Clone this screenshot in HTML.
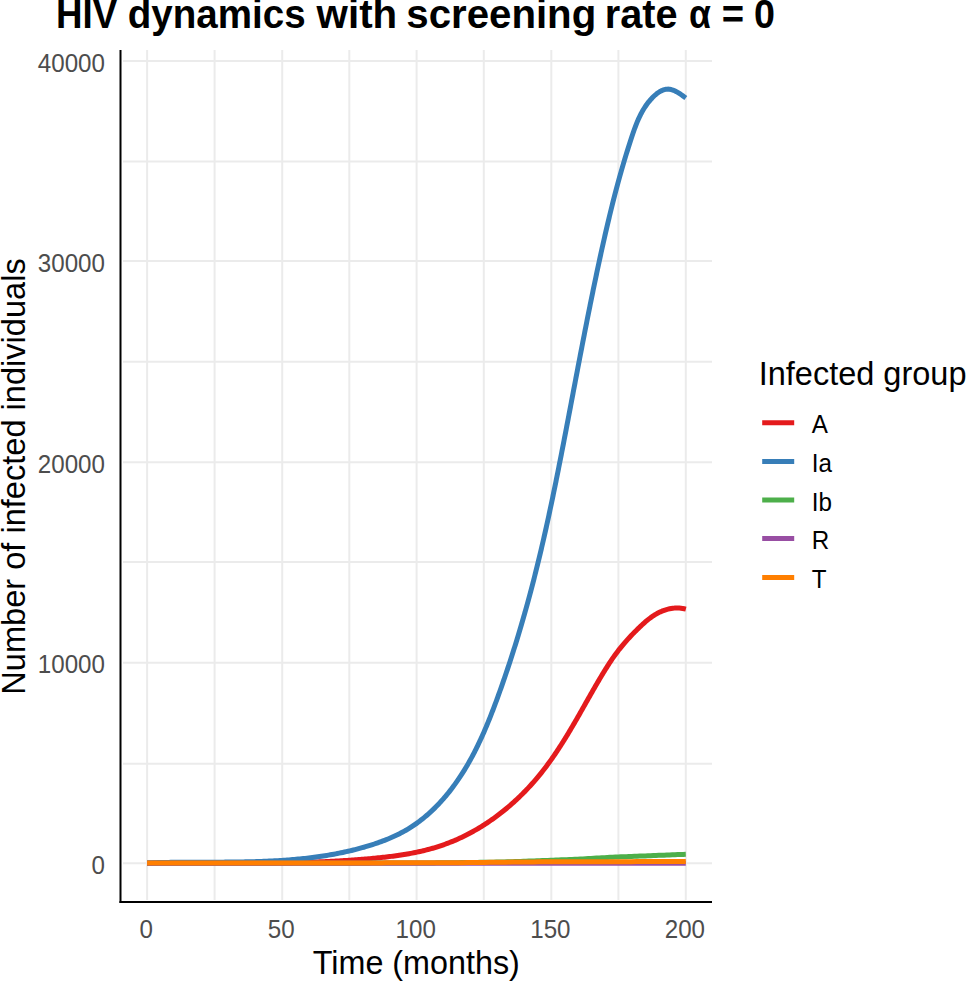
<!DOCTYPE html>
<html><head><meta charset="utf-8"><style>
html,body{margin:0;padding:0;background:#fff;width:967px;height:982px;overflow:hidden}
svg{display:block}
text{font-family:"Liberation Sans",sans-serif}
</style></head><body>
<svg width="967" height="982" viewBox="0 0 967 982">
<rect width="967" height="982" fill="#fff"/>
<g stroke="#EBEBEB" stroke-width="2" fill="none"><line x1="123" y1="60.9" x2="712" y2="60.9"/><line x1="123" y1="161.6" x2="712" y2="161.6"/><line x1="123" y1="261.0" x2="712" y2="261.0"/><line x1="123" y1="361.8" x2="712" y2="361.8"/><line x1="123" y1="462.3" x2="712" y2="462.3"/><line x1="123" y1="562.1" x2="712" y2="562.1"/><line x1="123" y1="662.8" x2="712" y2="662.8"/><line x1="123" y1="763.8" x2="712" y2="763.8"/><line x1="123" y1="863.3" x2="712" y2="863.3"/><line x1="147.1" y1="50" x2="147.1" y2="900"/><line x1="214.6" y1="50" x2="214.6" y2="900"/><line x1="282.2" y1="50" x2="282.2" y2="900"/><line x1="349.3" y1="50" x2="349.3" y2="900"/><line x1="416.6" y1="50" x2="416.6" y2="900"/><line x1="483.8" y1="50" x2="483.8" y2="900"/><line x1="551.3" y1="50" x2="551.3" y2="900"/><line x1="618.4" y1="50" x2="618.4" y2="900"/><line x1="685.8" y1="50" x2="685.8" y2="900"/></g>
<g fill="none" stroke-width="5.0" stroke-linejoin="round" stroke-linecap="butt"><path d="M147.10,863.20 L148.74,863.18 L150.38,863.15 L152.02,863.13 L153.66,863.11 L155.30,863.09 L156.94,863.07 L158.58,863.06 L160.22,863.04 L161.86,863.03 L163.49,863.02 L165.13,863.00 L166.77,862.99 L168.40,862.98 L170.04,862.97 L171.68,862.97 L173.31,862.96 L174.95,862.95 L176.58,862.95 L178.21,862.94 L179.85,862.94 L181.48,862.94 L183.11,862.93 L184.75,862.93 L186.38,862.93 L188.01,862.93 L189.64,862.93 L191.27,862.93 L192.90,862.93 L194.53,862.94 L196.16,862.94 L197.79,862.94 L199.42,862.94 L201.05,862.95 L202.68,862.95 L204.31,862.96 L205.94,862.96 L207.57,862.96 L209.19,862.97 L210.82,862.97 L212.45,862.98 L214.08,862.98 L215.70,862.99 L217.33,862.99 L218.96,863.00 L220.58,863.00 L222.21,863.01 L223.83,863.01 L225.46,863.02 L227.09,863.02 L228.71,863.03 L230.34,863.03 L231.96,863.03 L233.58,863.04 L235.21,863.04 L236.83,863.04 L238.46,863.04 L240.08,863.04 L241.71,863.05 L243.33,863.05 L244.95,863.05 L246.58,863.05 L248.20,863.04 L249.82,863.04 L251.44,863.04 L253.07,863.04 L254.69,863.03 L256.31,863.03 L257.94,863.02 L259.56,863.01 L261.18,863.01 L262.80,863.00 L264.42,862.99 L266.05,862.98 L267.67,862.97 L269.29,862.95 L270.91,862.94 L272.53,862.92 L274.16,862.91 L275.78,862.89 L277.40,862.87 L279.02,862.85 L280.64,862.83 L282.27,862.81 L283.89,862.78 L285.51,862.76 L287.13,862.73 L288.75,862.70 L290.37,862.67 L292.00,862.64 L293.62,862.61 L295.24,862.57 L296.86,862.54 L298.48,862.50 L300.11,862.46 L301.73,862.42 L303.35,862.37 L304.97,862.33 L306.60,862.28 L308.22,862.23 L309.84,862.18 L311.46,862.13 L313.09,862.08 L314.71,862.02 L316.33,861.96 L317.95,861.90 L319.58,861.84 L321.20,861.77 L322.82,861.70 L324.45,861.63 L326.07,861.56 L327.70,861.49 L329.32,861.41 L330.94,861.33 L332.57,861.25 L334.19,861.17 L335.82,861.08 L337.44,860.99 L339.07,860.90 L340.69,860.81 L342.32,860.71 L343.94,860.61 L345.57,860.51 L347.20,860.41 L348.82,860.30 L350.45,860.19 L352.08,860.08 L353.70,859.96 L355.33,859.84 L356.96,859.72 L358.59,859.60 L360.22,859.47 L361.84,859.34 L363.47,859.21 L365.10,859.07 L366.73,858.93 L368.36,858.79 L369.99,858.64 L371.62,858.49 L373.25,858.34 L374.88,858.19 L376.51,858.03 L378.14,857.86 L379.77,857.70 L381.40,857.52 L383.03,857.35 L384.66,857.17 L386.29,856.98 L387.92,856.79 L389.55,856.59 L391.17,856.39 L392.80,856.18 L394.42,855.96 L396.05,855.74 L397.67,855.51 L399.29,855.27 L400.91,855.03 L402.52,854.78 L404.14,854.52 L405.75,854.25 L407.36,853.98 L408.97,853.69 L410.57,853.40 L412.18,853.10 L413.78,852.79 L415.37,852.47 L416.97,852.14 L418.56,851.80 L420.15,851.45 L421.73,851.09 L423.32,850.71 L424.90,850.33 L426.47,849.94 L428.04,849.53 L429.61,849.12 L431.17,848.69 L432.73,848.25 L434.29,847.80 L435.84,847.33 L437.39,846.85 L438.93,846.36 L440.47,845.86 L442.00,845.34 L443.53,844.81 L445.05,844.26 L446.57,843.70 L448.08,843.13 L449.59,842.54 L451.09,841.95 L452.59,841.34 L454.08,840.71 L455.57,840.08 L457.05,839.43 L458.53,838.76 L460.00,838.09 L461.47,837.40 L462.93,836.70 L464.38,835.99 L465.83,835.27 L467.28,834.54 L468.71,833.79 L470.15,833.03 L471.57,832.26 L472.99,831.48 L474.41,830.69 L475.82,829.88 L477.22,829.06 L478.62,828.24 L480.01,827.40 L481.39,826.55 L482.77,825.69 L484.15,824.82 L485.51,823.94 L486.87,823.05 L488.22,822.15 L489.57,821.23 L490.91,820.31 L492.25,819.38 L493.57,818.43 L494.89,817.48 L496.21,816.52 L497.51,815.55 L498.82,814.56 L500.11,813.57 L501.40,812.57 L502.68,811.56 L503.95,810.54 L505.21,809.51 L506.47,808.47 L507.72,807.43 L508.97,806.37 L510.21,805.30 L511.44,804.23 L512.66,803.15 L513.87,802.06 L515.08,800.96 L516.28,799.85 L517.47,798.74 L518.66,797.61 L519.84,796.48 L521.00,795.34 L522.17,794.20 L523.32,793.04 L524.47,791.88 L525.61,790.71 L526.74,789.53 L527.86,788.35 L528.97,787.16 L530.08,785.96 L531.18,784.76 L532.27,783.54 L533.35,782.32 L534.42,781.10 L535.49,779.87 L536.54,778.63 L537.59,777.38 L538.63,776.13 L539.66,774.87 L540.68,773.61 L541.70,772.34 L542.71,771.06 L543.70,769.78 L544.69,768.50 L545.68,767.20 L546.65,765.91 L547.62,764.60 L548.58,763.29 L549.53,761.98 L550.48,760.66 L551.42,759.34 L552.35,758.01 L553.28,756.68 L554.20,755.34 L555.11,754.00 L556.02,752.66 L556.92,751.31 L557.82,749.95 L558.71,748.60 L559.60,747.24 L560.48,745.87 L561.36,744.50 L562.23,743.13 L563.10,741.75 L563.96,740.38 L564.82,738.99 L565.67,737.61 L566.52,736.22 L567.37,734.83 L568.21,733.44 L569.05,732.04 L569.89,730.65 L570.72,729.24 L571.55,727.84 L572.38,726.44 L573.20,725.03 L574.03,723.62 L574.85,722.21 L575.67,720.80 L576.48,719.39 L577.30,717.97 L578.11,716.56 L578.92,715.14 L579.73,713.72 L580.54,712.30 L581.35,710.88 L582.15,709.46 L582.96,708.04 L583.76,706.62 L584.57,705.20 L585.38,703.77 L586.18,702.35 L586.99,700.93 L587.79,699.50 L588.60,698.08 L589.41,696.66 L590.21,695.24 L591.02,693.82 L591.83,692.40 L592.64,690.98 L593.45,689.57 L594.27,688.15 L595.08,686.74 L595.90,685.33 L596.72,683.92 L597.54,682.52 L598.37,681.11 L599.19,679.72 L600.02,678.32 L600.85,676.93 L601.69,675.54 L602.53,674.15 L603.37,672.77 L604.21,671.39 L605.06,670.02 L605.91,668.65 L606.77,667.29 L607.63,665.93 L608.50,664.58 L609.38,663.23 L610.26,661.89 L611.15,660.55 L612.05,659.22 L612.96,657.90 L613.88,656.58 L614.82,655.27 L615.76,653.97 L616.72,652.67 L617.69,651.38 L618.67,650.10 L619.67,648.83 L620.69,647.56 L621.72,646.30 L622.76,645.05 L623.81,643.81 L624.88,642.57 L625.96,641.34 L627.05,640.12 L628.15,638.91 L629.25,637.71 L630.37,636.51 L631.49,635.32 L632.62,634.14 L633.75,632.97 L634.90,631.80 L636.05,630.64 L637.20,629.49 L638.37,628.35 L639.54,627.21 L640.72,626.09 L641.91,624.97 L643.12,623.86 L644.33,622.77 L645.56,621.70 L646.81,620.64 L648.07,619.61 L649.35,618.61 L650.65,617.63 L651.97,616.69 L653.31,615.78 L654.68,614.91 L656.07,614.08 L657.49,613.29 L658.94,612.54 L660.41,611.85 L661.90,611.20 L663.41,610.61 L664.94,610.07 L666.49,609.58 L668.05,609.16 L669.63,608.80 L671.22,608.51 L672.83,608.28 L674.44,608.12 L676.06,608.03 L677.69,608.02 L679.32,608.09 L680.96,608.23 L682.60,608.45 L684.24,608.76 L685.88,609.16" stroke="#E41A1C"/><path d="M147.10,862.91 L148.91,862.85 L150.71,862.79 L152.51,862.74 L154.32,862.69 L156.12,862.64 L157.93,862.60 L159.74,862.56 L161.55,862.52 L163.36,862.48 L165.17,862.45 L166.98,862.42 L168.79,862.39 L170.60,862.37 L172.42,862.35 L174.23,862.33 L176.05,862.31 L177.86,862.29 L179.68,862.28 L181.50,862.27 L183.31,862.25 L185.13,862.24 L186.95,862.24 L188.77,862.23 L190.59,862.22 L192.41,862.22 L194.23,862.21 L196.05,862.21 L197.87,862.20 L199.70,862.20 L201.52,862.20 L203.34,862.19 L205.17,862.19 L206.99,862.19 L208.81,862.18 L210.64,862.18 L212.46,862.18 L214.29,862.17 L216.11,862.17 L217.93,862.16 L219.76,862.15 L221.58,862.14 L223.41,862.13 L225.23,862.12 L227.06,862.11 L228.88,862.10 L230.71,862.08 L232.53,862.06 L234.36,862.04 L236.18,862.02 L238.01,862.00 L239.83,861.97 L241.66,861.94 L243.48,861.91 L245.30,861.87 L247.13,861.84 L248.95,861.80 L250.77,861.75 L252.60,861.71 L254.42,861.66 L256.24,861.60 L258.06,861.54 L259.88,861.48 L261.70,861.42 L263.52,861.35 L265.34,861.28 L267.16,861.20 L268.98,861.12 L270.80,861.03 L272.61,860.94 L274.43,860.84 L276.25,860.74 L278.06,860.64 L279.88,860.53 L281.69,860.41 L283.50,860.29 L285.31,860.16 L287.12,860.03 L288.94,859.89 L290.74,859.75 L292.55,859.60 L294.36,859.44 L296.17,859.28 L297.97,859.11 L299.78,858.94 L301.58,858.75 L303.38,858.56 L305.19,858.37 L306.99,858.17 L308.79,857.96 L310.58,857.74 L312.38,857.51 L314.18,857.28 L315.97,857.04 L317.76,856.79 L319.56,856.54 L321.35,856.28 L323.14,856.00 L324.92,855.72 L326.71,855.44 L328.50,855.14 L330.28,854.83 L332.06,854.52 L333.84,854.20 L335.62,853.86 L337.40,853.52 L339.18,853.17 L340.95,852.81 L342.72,852.44 L344.49,852.06 L346.26,851.67 L348.03,851.27 L349.80,850.86 L351.56,850.45 L353.33,850.02 L355.09,849.58 L356.85,849.13 L358.60,848.66 L360.36,848.19 L362.11,847.71 L363.87,847.22 L365.61,846.71 L367.36,846.19 L369.11,845.67 L370.85,845.12 L372.59,844.57 L374.32,844.00 L376.05,843.42 L377.77,842.83 L379.49,842.22 L381.21,841.60 L382.91,840.96 L384.62,840.31 L386.31,839.64 L388.00,838.95 L389.67,838.25 L391.34,837.53 L393.01,836.79 L394.66,836.03 L396.30,835.26 L397.93,834.47 L399.56,833.65 L401.17,832.82 L402.77,831.97 L404.36,831.10 L405.94,830.21 L407.50,829.29 L409.05,828.36 L410.59,827.40 L412.11,826.42 L413.62,825.42 L415.12,824.40 L416.60,823.35 L418.07,822.29 L419.53,821.21 L420.97,820.10 L422.40,818.98 L423.81,817.84 L425.21,816.68 L426.60,815.51 L427.97,814.31 L429.33,813.10 L430.68,811.88 L432.01,810.63 L433.33,809.38 L434.63,808.10 L435.92,806.82 L437.20,805.52 L438.46,804.20 L439.71,802.87 L440.94,801.53 L442.16,800.18 L443.37,798.82 L444.56,797.44 L445.74,796.05 L446.91,794.66 L448.06,793.25 L449.20,791.83 L450.32,790.41 L451.43,788.98 L452.52,787.53 L453.60,786.08 L454.67,784.62 L455.73,783.15 L456.77,781.68 L457.80,780.19 L458.82,778.70 L459.82,777.20 L460.82,775.70 L461.80,774.18 L462.77,772.66 L463.72,771.13 L464.67,769.60 L465.60,768.05 L466.53,766.50 L467.44,764.95 L468.34,763.38 L469.23,761.82 L470.11,760.24 L470.98,758.66 L471.84,757.07 L472.70,755.48 L473.54,753.88 L474.37,752.28 L475.19,750.67 L476.00,749.05 L476.81,747.43 L477.60,745.81 L478.39,744.18 L479.17,742.54 L479.94,740.90 L480.70,739.26 L481.46,737.61 L482.21,735.96 L482.95,734.30 L483.68,732.64 L484.41,730.98 L485.13,729.31 L485.84,727.64 L486.54,725.97 L487.24,724.29 L487.94,722.61 L488.63,720.92 L489.31,719.24 L489.98,717.55 L490.66,715.85 L491.32,714.16 L491.98,712.46 L492.64,710.76 L493.29,709.06 L493.94,707.36 L494.58,705.65 L495.22,703.95 L495.85,702.24 L496.49,700.53 L497.11,698.82 L497.74,697.11 L498.36,695.40 L498.98,693.68 L499.59,691.97 L500.20,690.25 L500.81,688.54 L501.42,686.82 L502.03,685.10 L502.63,683.38 L503.22,681.66 L503.82,679.94 L504.41,678.22 L505.00,676.50 L505.59,674.78 L506.18,673.06 L506.76,671.33 L507.34,669.61 L507.91,667.88 L508.49,666.16 L509.06,664.43 L509.63,662.70 L510.19,660.98 L510.75,659.25 L511.31,657.52 L511.87,655.79 L512.43,654.06 L512.98,652.32 L513.53,650.59 L514.08,648.86 L514.62,647.13 L515.16,645.39 L515.70,643.66 L516.24,641.92 L516.77,640.18 L517.30,638.45 L517.83,636.71 L518.36,634.97 L518.88,633.23 L519.40,631.49 L519.92,629.75 L520.44,628.01 L520.95,626.27 L521.47,624.53 L521.97,622.78 L522.48,621.04 L522.99,619.29 L523.49,617.55 L523.99,615.80 L524.48,614.06 L524.98,612.31 L525.47,610.56 L525.96,608.82 L526.45,607.07 L526.93,605.32 L527.42,603.57 L527.90,601.82 L528.38,600.07 L528.85,598.32 L529.33,596.56 L529.80,594.81 L530.27,593.06 L530.73,591.30 L531.20,589.55 L531.66,587.80 L532.12,586.04 L532.58,584.28 L533.03,582.53 L533.49,580.77 L533.94,579.01 L534.39,577.25 L534.83,575.50 L535.28,573.74 L535.72,571.98 L536.16,570.22 L536.60,568.46 L537.04,566.69 L537.47,564.93 L537.90,563.17 L538.33,561.41 L538.76,559.64 L539.19,557.88 L539.61,556.12 L540.03,554.35 L540.45,552.59 L540.87,550.82 L541.29,549.05 L541.70,547.29 L542.11,545.52 L542.52,543.75 L542.93,541.99 L543.34,540.22 L543.74,538.45 L544.15,536.68 L544.55,534.91 L544.95,533.14 L545.35,531.37 L545.74,529.60 L546.14,527.83 L546.53,526.05 L546.92,524.28 L547.31,522.51 L547.70,520.74 L548.09,518.96 L548.48,517.19 L548.86,515.42 L549.24,513.64 L549.62,511.87 L550.00,510.09 L550.38,508.32 L550.76,506.54 L551.14,504.76 L551.51,502.99 L551.88,501.21 L552.26,499.43 L552.63,497.65 L553.00,495.88 L553.37,494.10 L553.73,492.32 L554.10,490.54 L554.47,488.76 L554.83,486.98 L555.19,485.20 L555.56,483.42 L555.92,481.64 L556.28,479.86 L556.64,478.08 L557.00,476.30 L557.35,474.52 L557.71,472.74 L558.07,470.96 L558.42,469.17 L558.77,467.39 L559.13,465.61 L559.48,463.83 L559.83,462.04 L560.18,460.26 L560.53,458.48 L560.88,456.69 L561.23,454.91 L561.58,453.12 L561.93,451.34 L562.28,449.55 L562.62,447.77 L562.97,445.98 L563.32,444.20 L563.66,442.41 L564.01,440.63 L564.35,438.84 L564.69,437.06 L565.04,435.27 L565.38,433.48 L565.72,431.70 L566.06,429.91 L566.41,428.13 L566.75,426.34 L567.09,424.55 L567.43,422.77 L567.77,420.98 L568.11,419.19 L568.45,417.40 L568.79,415.62 L569.13,413.83 L569.47,412.04 L569.81,410.25 L570.15,408.47 L570.49,406.68 L570.83,404.89 L571.17,403.10 L571.50,401.31 L571.84,399.53 L572.18,397.74 L572.52,395.95 L572.86,394.16 L573.20,392.37 L573.54,390.58 L573.88,388.80 L574.22,387.01 L574.56,385.22 L574.90,383.43 L575.24,381.64 L575.58,379.85 L575.92,378.07 L576.26,376.28 L576.60,374.49 L576.94,372.70 L577.28,370.91 L577.62,369.12 L577.96,367.34 L578.30,365.55 L578.64,363.76 L578.98,361.97 L579.33,360.18 L579.67,358.40 L580.01,356.61 L580.35,354.82 L580.70,353.03 L581.04,351.25 L581.39,349.46 L581.73,347.67 L582.08,345.89 L582.42,344.10 L582.77,342.31 L583.12,340.53 L583.46,338.74 L583.81,336.95 L584.16,335.17 L584.51,333.38 L584.86,331.60 L585.20,329.81 L585.56,328.03 L585.91,326.24 L586.26,324.46 L586.61,322.67 L586.96,320.89 L587.32,319.11 L587.67,317.32 L588.02,315.54 L588.38,313.76 L588.73,311.97 L589.09,310.19 L589.45,308.41 L589.81,306.63 L590.17,304.85 L590.53,303.06 L590.89,301.28 L591.25,299.50 L591.61,297.72 L591.97,295.94 L592.34,294.16 L592.70,292.38 L593.07,290.60 L593.43,288.83 L593.80,287.05 L594.17,285.27 L594.54,283.49 L594.91,281.72 L595.28,279.94 L595.65,278.16 L596.02,276.39 L596.40,274.61 L596.77,272.84 L597.15,271.06 L597.52,269.29 L597.90,267.51 L598.28,265.74 L598.66,263.97 L599.04,262.20 L599.42,260.43 L599.81,258.65 L600.19,256.88 L600.58,255.11 L600.96,253.34 L601.35,251.57 L601.74,249.81 L602.13,248.04 L602.53,246.27 L602.92,244.50 L603.31,242.74 L603.71,240.97 L604.11,239.20 L604.51,237.44 L604.91,235.67 L605.31,233.91 L605.72,232.14 L606.13,230.38 L606.54,228.62 L606.95,226.85 L607.36,225.09 L607.77,223.33 L608.19,221.57 L608.61,219.81 L609.03,218.05 L609.45,216.29 L609.88,214.53 L610.31,212.77 L610.74,211.01 L611.17,209.25 L611.61,207.49 L612.04,205.73 L612.48,203.98 L612.93,202.22 L613.37,200.46 L613.82,198.70 L614.27,196.95 L614.72,195.19 L615.18,193.44 L615.64,191.68 L616.10,189.93 L616.57,188.17 L617.04,186.42 L617.51,184.67 L617.98,182.91 L618.46,181.16 L618.94,179.41 L619.42,177.65 L619.91,175.90 L620.40,174.15 L620.90,172.40 L621.39,170.65 L621.90,168.90 L622.40,167.15 L622.91,165.39 L623.42,163.64 L623.94,161.89 L624.46,160.15 L624.98,158.40 L625.51,156.65 L626.04,154.90 L626.57,153.15 L627.11,151.40 L627.65,149.65 L628.20,147.91 L628.75,146.16 L629.31,144.41 L629.87,142.66 L630.43,140.92 L631.00,139.17 L631.57,137.42 L632.15,135.68 L632.74,133.94 L633.34,132.20 L633.95,130.47 L634.57,128.74 L635.21,127.03 L635.86,125.32 L636.54,123.62 L637.23,121.93 L637.95,120.26 L638.68,118.60 L639.45,116.96 L640.24,115.33 L641.06,113.73 L641.92,112.14 L642.80,110.57 L643.72,109.02 L644.68,107.50 L645.67,106.00 L646.70,104.52 L647.78,103.08 L648.89,101.66 L650.06,100.27 L651.26,98.91 L652.52,97.58 L653.83,96.29 L655.18,95.04 L656.59,93.85 L658.05,92.75 L659.55,91.75 L661.11,90.88 L662.71,90.16 L664.35,89.62 L666.03,89.26 L667.73,89.12 L669.45,89.21 L671.19,89.54 L672.93,90.08 L674.66,90.80 L676.38,91.66 L678.07,92.63 L679.73,93.68 L681.35,94.77 L682.91,95.87 L684.41,96.95 L685.83,97.97" stroke="#377EB8"/><path d="M147.10,863.20 L149.81,863.20 L152.51,863.20 L155.22,863.20 L157.93,863.20 L160.64,863.20 L163.34,863.20 L166.05,863.20 L168.76,863.20 L171.46,863.20 L174.17,863.20 L176.88,863.20 L179.58,863.20 L182.29,863.20 L185.00,863.20 L187.71,863.20 L190.41,863.20 L193.12,863.20 L195.83,863.20 L198.53,863.20 L201.24,863.20 L203.95,863.20 L206.65,863.20 L209.36,863.20 L212.07,863.20 L214.78,863.19 L217.48,863.19 L220.19,863.19 L222.90,863.19 L225.60,863.19 L228.31,863.19 L231.02,863.19 L233.73,863.19 L236.43,863.19 L239.14,863.19 L241.85,863.19 L244.55,863.19 L247.26,863.19 L249.97,863.19 L252.67,863.19 L255.38,863.19 L258.09,863.19 L260.80,863.19 L263.50,863.18 L266.21,863.18 L268.92,863.18 L271.62,863.18 L274.33,863.18 L277.04,863.18 L279.74,863.18 L282.45,863.18 L285.16,863.18 L287.87,863.18 L290.57,863.18 L293.28,863.17 L295.99,863.17 L298.69,863.17 L301.40,863.17 L304.11,863.17 L306.82,863.17 L309.52,863.17 L312.23,863.17 L314.94,863.17 L317.64,863.17 L320.35,863.16 L323.06,863.16 L325.76,863.16 L328.47,863.16 L331.18,863.16 L333.89,863.16 L336.59,863.16 L339.30,863.16 L342.01,863.15 L344.71,863.15 L347.42,863.15 L350.13,863.15 L352.83,863.15 L355.54,863.15 L358.25,863.14 L360.96,863.14 L363.66,863.14 L366.37,863.13 L369.08,863.13 L371.78,863.12 L374.49,863.11 L377.20,863.11 L379.91,863.10 L382.61,863.09 L385.32,863.09 L388.03,863.08 L390.73,863.07 L393.44,863.06 L396.15,863.05 L398.85,863.04 L401.56,863.03 L404.27,863.02 L406.98,863.01 L409.68,863.00 L412.39,862.98 L415.10,862.97 L417.80,862.96 L420.51,862.95 L423.22,862.93 L425.92,862.92 L428.63,862.91 L431.34,862.89 L434.05,862.88 L436.75,862.86 L439.46,862.84 L442.17,862.82 L444.87,862.80 L447.58,862.77 L450.29,862.74 L452.99,862.72 L455.70,862.69 L458.41,862.66 L461.12,862.62 L463.82,862.59 L466.53,862.55 L469.24,862.52 L471.94,862.48 L474.65,862.44 L477.36,862.40 L480.07,862.35 L482.77,862.31 L485.48,862.27 L488.19,862.22 L490.89,862.17 L493.60,862.13 L496.31,862.08 L499.01,862.02 L501.72,861.96 L504.43,861.89 L507.14,861.82 L509.84,861.74 L512.55,861.66 L515.26,861.57 L517.96,861.48 L520.67,861.39 L523.38,861.30 L526.08,861.20 L528.79,861.10 L531.50,861.00 L534.21,860.90 L536.91,860.80 L539.62,860.70 L542.33,860.60 L545.03,860.50 L547.74,860.40 L550.45,860.30 L553.16,860.20 L555.86,860.09 L558.57,859.98 L561.28,859.87 L563.98,859.76 L566.69,859.65 L569.40,859.53 L572.10,859.41 L574.81,859.29 L577.52,859.17 L580.23,859.04 L582.93,858.90 L585.64,858.76 L588.35,858.61 L591.05,858.45 L593.76,858.29 L596.47,858.12 L599.17,857.96 L601.88,857.79 L604.59,857.64 L607.30,857.49 L610.00,857.35 L612.71,857.22 L615.42,857.09 L618.12,856.97 L620.83,856.85 L623.54,856.74 L626.25,856.63 L628.95,856.52 L631.66,856.41 L634.37,856.30 L637.07,856.20 L639.78,856.09 L642.49,855.99 L645.19,855.88 L647.90,855.78 L650.61,855.67 L653.32,855.57 L656.02,855.46 L658.73,855.35 L661.44,855.24 L664.14,855.14 L666.85,855.03 L669.56,854.93 L672.26,854.82 L674.97,854.72 L677.68,854.61 L680.39,854.51 L683.09,854.40 L685.80,854.30" stroke="#4DAF4A"/><path d="M147.10,863.15 L685.80,863.15" stroke="#984EA3"/><path d="M147.10,863.00 L152.54,863.00 L157.98,863.00 L163.42,863.00 L168.87,863.00 L174.31,863.00 L179.75,863.00 L185.19,863.00 L190.63,862.99 L196.07,862.99 L201.51,862.99 L206.96,862.99 L212.40,862.99 L217.84,862.99 L223.28,862.98 L228.72,862.98 L234.16,862.98 L239.60,862.98 L245.05,862.98 L250.49,862.97 L255.93,862.97 L261.37,862.97 L266.81,862.97 L272.25,862.96 L277.69,862.96 L283.14,862.96 L288.58,862.96 L294.02,862.95 L299.46,862.95 L304.90,862.95 L310.34,862.94 L315.78,862.94 L321.23,862.94 L326.67,862.93 L332.11,862.93 L337.55,862.93 L342.99,862.92 L348.43,862.92 L353.87,862.91 L359.32,862.90 L364.76,862.90 L370.20,862.89 L375.64,862.89 L381.08,862.88 L386.52,862.87 L391.96,862.86 L397.41,862.85 L402.85,862.85 L408.29,862.84 L413.73,862.82 L419.17,862.81 L424.61,862.80 L430.05,862.78 L435.49,862.76 L440.94,862.74 L446.38,862.72 L451.82,862.69 L457.26,862.67 L462.70,862.64 L468.14,862.61 L473.58,862.57 L479.03,862.52 L484.47,862.45 L489.91,862.37 L495.35,862.29 L500.79,862.22 L506.23,862.16 L511.67,862.10 L517.12,862.04 L522.56,861.98 L528.00,861.93 L533.44,861.89 L538.88,861.85 L544.32,861.83 L549.76,861.81 L555.21,861.80 L560.65,861.78 L566.09,861.77 L571.53,861.76 L576.97,861.75 L582.41,861.74 L587.85,861.73 L593.30,861.72 L598.74,861.70 L604.18,861.69 L609.62,861.68 L615.06,861.66 L620.50,861.65 L625.94,861.64 L631.39,861.63 L636.83,861.61 L642.27,861.60 L647.71,861.59 L653.15,861.57 L658.59,861.56 L664.03,861.55 L669.48,861.54 L674.92,861.52 L680.36,861.51 L685.80,861.50" stroke="#FF7F00"/></g>
<g stroke="#000" stroke-width="2" fill="none"><line x1="120.5" y1="50" x2="120.5" y2="903"/><line x1="119.5" y1="902" x2="712" y2="902"/></g>
<text transform="translate(105.00,71.50) scale(0.93,1)" font-size="26.0" fill="#4D4D4D" text-anchor="end">40000</text><text transform="translate(105.00,271.60) scale(0.93,1)" font-size="26.0" fill="#4D4D4D" text-anchor="end">30000</text><text transform="translate(105.00,472.90) scale(0.93,1)" font-size="26.0" fill="#4D4D4D" text-anchor="end">20000</text><text transform="translate(105.00,673.40) scale(0.93,1)" font-size="26.0" fill="#4D4D4D" text-anchor="end">10000</text><text transform="translate(105.00,873.90) scale(0.93,1)" font-size="26.0" fill="#4D4D4D" text-anchor="end">0</text>
<text transform="translate(146.20,938.00) scale(0.93,1)" font-size="26.0" fill="#4D4D4D" text-anchor="middle">0</text><text transform="translate(281.30,938.00) scale(0.93,1)" font-size="26.0" fill="#4D4D4D" text-anchor="middle">50</text><text transform="translate(415.70,938.00) scale(0.93,1)" font-size="26.0" fill="#4D4D4D" text-anchor="middle">100</text><text transform="translate(550.40,938.00) scale(0.93,1)" font-size="26.0" fill="#4D4D4D" text-anchor="middle">150</text><text transform="translate(684.90,938.00) scale(0.93,1)" font-size="26.0" fill="#4D4D4D" text-anchor="middle">200</text>
<text transform="translate(56.09,27.90) scale(0.9109,1)" font-size="40.3" fill="#000" font-weight="bold">HIV</text><text transform="translate(127.72,27.90) scale(0.9573,1)" font-size="40.3" fill="#000" font-weight="bold">dynamics</text><text transform="translate(316.60,27.90)" font-size="40.3" fill="#000" font-weight="bold">with</text><text transform="translate(406.30,27.90) scale(0.9976,1)" font-size="40.3" fill="#000" font-weight="bold">screening</text><text transform="translate(604.79,27.90) scale(0.9849,1)" font-size="40.3" fill="#000" font-weight="bold">rate</text><text transform="translate(688.97,27.90) scale(0.8835,1)" font-size="40.3" fill="#000" font-weight="bold">α</text><text transform="translate(721.74,27.90) scale(0.95,1)" font-size="40.3" fill="#000" font-weight="bold">=</text><text transform="translate(754.00,27.90) scale(0.9351,1)" font-size="40.3" fill="#000" font-weight="bold">0</text>
<text transform="translate(416.30,974.40)" font-size="32.3" fill="#000" text-anchor="middle">Time (months)</text>
<text transform="translate(25.30,476.50) rotate(-90)" font-size="32.6" fill="#000" text-anchor="middle">Number of infected individuals</text>
<text transform="translate(758.70,384.80)" font-size="32.5" fill="#000">Infected group</text>
<g stroke-width="5" fill="none"><line x1="762.2" y1="422.7" x2="794.2" y2="422.7" stroke="#E41A1C"/><line x1="762.2" y1="461.4" x2="794.2" y2="461.4" stroke="#377EB8"/><line x1="762.2" y1="500.1" x2="794.2" y2="500.1" stroke="#4DAF4A"/><line x1="762.2" y1="538.6" x2="794.2" y2="538.6" stroke="#984EA3"/><line x1="762.2" y1="577.5" x2="794.2" y2="577.5" stroke="#FF7F00"/></g>
<text transform="translate(811.80,433.20) scale(0.925,1)" font-size="26.2" fill="#000">A</text><text transform="translate(811.80,471.90) scale(0.925,1)" font-size="26.2" fill="#000">Ia</text><text transform="translate(811.80,510.60) scale(0.925,1)" font-size="26.2" fill="#000">Ib</text><text transform="translate(811.80,549.10) scale(0.925,1)" font-size="26.2" fill="#000">R</text><text transform="translate(811.80,588.00) scale(0.925,1)" font-size="26.2" fill="#000">T</text>
</svg>
</body></html>
